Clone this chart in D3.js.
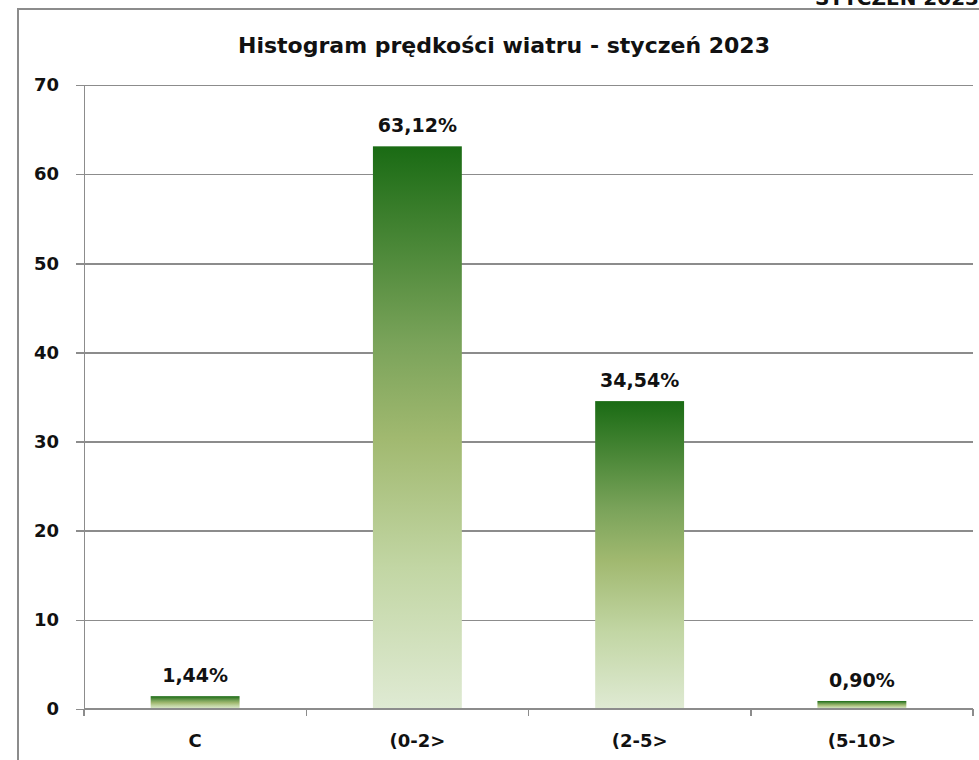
<!DOCTYPE html>
<html lang="pl">
<head>
<meta charset="utf-8">
<title>Histogram prędkości wiatru</title>
<script src="https://cdn.jsdelivr.net/npm/d3@7"></script>
<style>
body {
  margin: 0;
  background-color: #ffffff;
}
svg text {
  font-family: "DejaVu Sans", Verdana, sans-serif;
  font-weight: bold;
  fill: #111;
}
.axis path,
.axis line,
.grid line {
  fill: none;
  stroke: #8c8c8c;
  stroke-width: 1.5px;
  shape-rendering: crispEdges;
}
.grid path {
  display: none;
}
</style>
</head>
<body>
<svg width="979" height="760"></svg>
<script>
// dane
var categories = ["C", "(0-2>", "(2-5>", "(5-10>"];
var values = [1.44, 63.12, 34.54, 0.90];
var valueLabels = ["1,44%", "63,12%", "34,54%", "0,90%"];
var yTicks = [0, 10, 20, 30, 40, 50, 60, 70];
var title = "Histogram prędkości wiatru - styczeń 2023";

var svg = d3.select("svg"),
    margin = {top: 85, right: 6, bottom: 51, left: 84},
    width = +svg.attr("width") - margin.left - margin.right,
    height = +svg.attr("height") - margin.top - margin.bottom;

// ramka wykresu (prawa krawędź ucięta)
svg.append("path")
    .attr("d", "M18,760V9H979")
    .attr("fill", "none")
    .attr("stroke", "#8c8c8c")
    .attr("stroke-width", 2);

// napis u góry po prawej, ucięty tak jak na oryginale
svg.append("text")
    .attr("x", 815)
    .attr("y", 5)
    .style("font-size", "20px")
    .text("STYCZEŃ 2023");

svg.append("text")
    .attr("x", 504)
    .attr("y", 53)
    .attr("text-anchor", "middle")
    .style("font-size", "22px")
    .text(title);

var defs = svg.append("defs");
var grad = defs.append("linearGradient")
    .attr("id", "barGrad")
    .attr("x1", 0).attr("y1", 0).attr("x2", 0).attr("y2", 1);
grad.append("stop").attr("offset", "0%").attr("stop-color", "#1a6b14");
grad.append("stop").attr("offset", "35%").attr("stop-color", "#7aa35a");
grad.append("stop").attr("offset", "52%").attr("stop-color", "#a1b970");
grad.append("stop").attr("offset", "75%").attr("stop-color", "#c2d6a4");
grad.append("stop").attr("offset", "100%").attr("stop-color", "#dfead3");

var x = d3.scaleBand()
    .domain(categories)
    .range([0, width])
    .paddingInner(0.6)
    .paddingOuter(0.3);
var xTicks = d3.scaleBand().domain(categories).range([0, width]);

var y = d3.scaleLinear().domain([0, 70]).range([height, 0]);

var g = svg.append("g")
    .attr("transform", "translate(" + margin.left + "," + margin.top + ")");

g.append("g")
    .attr("class", "grid")
    .call(d3.axisLeft(y).tickValues(yTicks.slice(1)).tickSize(-width).tickFormat(""));

g.append("g")
    .attr("class", "y axis")
    .call(d3.axisLeft(y).tickValues(yTicks).tickSizeInner(8).tickSizeOuter(0).tickPadding(17))
  .selectAll("text")
    .style("font-size", "18px");

g.selectAll(".bar")
    .data(values)
  .enter().append("rect")
    .attr("class", "bar")
    .attr("x", function(d, i) { return x(categories[i]); })
    .attr("width", x.bandwidth())
    .attr("y", function(d) { return y(d); })
    .attr("height", function(d) { return height - y(d); })
    .attr("fill", "url(#barGrad)");

g.selectAll(".val")
    .data(values)
  .enter().append("text")
    .attr("class", "val")
    .attr("x", function(d, i) { return x(categories[i]) + x.bandwidth() / 2; })
    .attr("y", function(d) { return y(d) - 14; })
    .attr("text-anchor", "middle")
    .style("font-size", "19px")
    .text(function(d, i) { return valueLabels[i]; });

// oś X: kreski na granicach kategorii
var xAxis = g.append("g")
    .attr("class", "x axis")
    .attr("transform", "translate(0," + height + ")");
xAxis.append("line")
    .attr("x1", 0).attr("x2", width);
xAxis.selectAll(".tick")
    .data(d3.range(categories.length + 1))
  .enter().append("line")
    .attr("x1", function(i) { return i * xTicks.step(); })
    .attr("x2", function(i) { return i * xTicks.step(); })
    .attr("y1", 0).attr("y2", 7);
xAxis.selectAll(".lab")
    .data(categories)
  .enter().append("text")
    .attr("class", "lab")
    .attr("x", function(d) { return x(d) + x.bandwidth() / 2; })
    .attr("y", 38)
    .attr("text-anchor", "middle")
    .style("font-size", "18px")
    .text(function(d) { return d; });
</script>
</body>
</html>
